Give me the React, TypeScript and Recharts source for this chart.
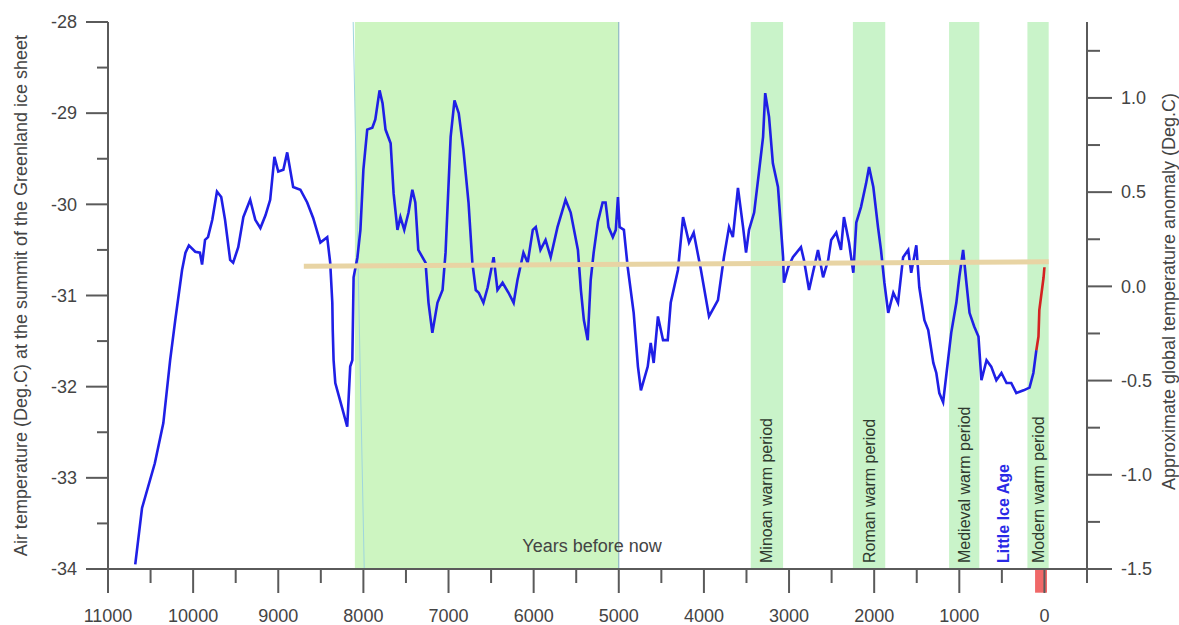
import { ComposedChart, Line, XAxis, YAxis, ReferenceArea, ReferenceLine } from "recharts";

const FONT = "Arial, 'Liberation Sans', sans-serif";
const AXIS = "#5a5a5a";
const TEXT = "#444";

// GISP2 reconstruction, years before now / deg C
const blueYears = [
  10680, 10600, 10450, 10350, 10270, 10210, 10130, 10090, 10050, 9975, 9920, 9895, 9860, 9825, 9775, 9720, 9670, 9625,
  9565, 9530, 9470, 9410, 9330, 9270, 9210, 9150, 9095, 9045, 9000, 8940, 8895, 8825, 8740, 8660, 8590, 8505, 8425, 8390,
  8365, 8360, 8350, 8330, 8245, 8190, 8155, 8130, 8115, 8070, 8035, 8000, 7955, 7895, 7860, 7810, 7775, 7740, 7680, 7645,
  7600, 7565, 7520, 7470, 7425, 7390, 7355, 7270, 7235, 7190, 7130, 7070, 7035, 6975, 6930, 6880, 6825, 6765, 6720, 6680,
  6645, 6590, 6540, 6470, 6425, 6365, 6295, 6235, 6190, 6120, 6070, 6010, 5975, 5920, 5860, 5800, 5720, 5625, 5565, 5480,
  5445, 5410, 5365, 5330, 5295, 5245, 5190, 5155, 5120, 5070, 5035, 5010, 4990, 4940, 4895, 4825, 4775, 4740, 4660, 4625,
  4590, 4540, 4480, 4425, 4390, 4305, 4245, 4175, 4120, 4035, 3940, 3835, 3765, 3705, 3660, 3600, 3540, 3505, 3470, 3410,
  3355, 3305, 3280, 3235, 3190, 3130, 3070, 3060, 3010, 2955, 2860, 2825, 2765, 2705, 2660, 2600, 2540, 2505, 2445, 2390,
  2355, 2295, 2245, 2210, 2155, 2095, 2060, 2010, 1955, 1920, 1880, 1835, 1775, 1720, 1660, 1600, 1565, 1505, 1470, 1410,
  1365, 1305, 1270, 1235, 1190, 1155, 1095, 1035, 1000, 955, 920, 880, 825, 775, 740, 680, 625, 565, 505, 445, 390, 330,
  245, 175, 130, 95,
];
const blueTemps = [
  -33.95, -33.33, -32.84, -32.4, -31.71, -31.27, -30.72, -30.53, -30.45, -30.52, -30.53, -30.66, -30.39, -30.36, -30.17,
  -29.86, -29.92, -30.17, -30.61, -30.64, -30.47, -30.14, -29.95, -30.17, -30.26, -30.12, -29.95, -29.48, -29.64, -29.62,
  -29.43, -29.81, -29.84, -29.98, -30.15, -30.42, -30.36, -30.64, -31.08, -31.38, -31.71, -31.96, -32.25, -32.44, -31.78,
  -31.71, -30.8, -30.58, -30.28, -29.62, -29.18, -29.16, -29.07, -28.75, -28.89, -29.18, -29.33, -29.88, -30.28, -30.14,
  -30.28, -30.09, -29.84, -29.98, -30.5, -30.64, -31.08, -31.41, -31.08, -30.94, -30.53, -29.26, -28.86, -29.0, -29.4,
  -29.98, -30.64, -30.94, -30.97, -31.08, -30.91, -30.58, -30.94, -30.86, -30.97, -31.08, -30.83, -30.53, -30.64, -30.28,
  -30.25, -30.5, -30.39, -30.58, -30.25, -29.95, -30.09, -30.5, -30.94, -31.27, -31.49, -30.83, -30.53, -30.19, -29.98,
  -29.98, -30.25, -30.36, -30.28, -29.92, -30.25, -30.28, -30.69, -31.19, -31.78, -32.04, -31.78, -31.52, -31.74, -31.23,
  -31.49, -31.49, -31.08, -30.72, -30.14, -30.42, -30.31, -30.72, -31.23, -31.05, -30.58, -30.25, -30.36, -29.82, -30.25,
  -30.53, -30.28, -30.09, -29.66, -29.26, -28.78, -29.04, -29.55, -29.81, -30.58, -30.86, -30.69, -30.58, -30.47, -30.61,
  -30.94, -30.69, -30.5, -30.8, -30.61, -30.39, -30.31, -30.5, -30.14, -30.42, -30.75, -30.2, -30.03, -29.77, -29.59,
  -29.81, -30.25, -30.5, -30.86, -31.19, -30.97, -31.08, -30.58, -30.5, -30.75, -30.45, -30.91, -31.27, -31.38, -31.74,
  -31.85, -32.07, -32.17, -31.89, -31.41, -31.08, -30.8, -30.5, -30.83, -31.19, -31.34, -31.45, -31.93, -31.71, -31.78,
  -31.93, -31.85, -31.96, -31.96, -32.07, -32.04, -32.01, -31.85, -31.6,
];

// recent warming segment (red)
const redYears = [95, 70, 60, 10, 0];
const redTemps = [-31.6, -31.45, -31.16, -30.8, -30.69];

// present-day level line (tan)
const levelYears = [8700, -50];
const levelTemps = [-30.68, -30.63];

const bandNames = ["", "Minoan warm period", "Roman warm period", "Medieval warm period", "Modern warm period"];
const bandStarts = [8100, 3450, 2250, 1120, 200];
const bandEnds = [5000, 3070, 1870, 765, -50];

const yearTicks = [
  11000, 10500, 10000, 9500, 9000, 8500, 8000, 7500, 7000, 6500, 6000, 5500, 5000, 4500, 4000, 3500, 3000, 2500, 2000,
  1500, 1000, 500, 0, -500,
];
const tempTicks = [-34, -33.5, -33, -32.5, -32, -31.5, -31, -30.5, -30, -29.5, -29, -28.5, -28];
const anomalyTicks = [-1.5, -1.25, -1, -0.75, -0.5, -0.25, 0, 0.25, 0.5, 0.75, 1, 1.25];

const blueData = blueYears.map((year, i) => ({ year, temp: blueTemps[i] }));
const redData = redYears.map((year, i) => ({ year, temp: redTemps[i] }));
const levelData = levelYears.map((year, i) => ({ year, temp: levelTemps[i] }));

function YearTick({ x, y, payload }: any) {
  const v = payload.value;
  const major = v % 1000 === 0;
  return (
    <g>
      <line x1={x} x2={x} y1={y} y2={y + (major ? 24 : 14)} stroke={AXIS} strokeWidth={2} />
      {major && v >= 0 && (
        <text x={x} y={y + 53} textAnchor="middle" fontSize={18} fill={TEXT} fontFamily={FONT}>
          {v}
        </text>
      )}
    </g>
  );
}

function TempTick({ x, y, payload }: any) {
  const v = payload.value;
  const major = Number.isInteger(v);
  return (
    <g>
      <line x1={x} x2={x - (major ? 22 : 11)} y1={y} y2={y} stroke={AXIS} strokeWidth={2} />
      {major && (
        <text x={x - 31} y={y} dy="0.35em" textAnchor="end" fontSize={18} fill={TEXT} fontFamily={FONT}>
          {v}
        </text>
      )}
    </g>
  );
}

function AnomalyTick({ x, y, payload }: any) {
  const v = payload.value;
  const major = Math.abs((v * 2) % 1) < 1e-9;
  return (
    <g>
      <line x1={x} x2={x + (major ? 25 : 13)} y1={y} y2={y} stroke={AXIS} strokeWidth={2} />
      {major && (
        <text x={x + 34} y={y} dy="0.35em" textAnchor="start" fontSize={18} fill={TEXT} fontFamily={FONT}>
          {v.toFixed(1)}
        </text>
      )}
    </g>
  );
}

const verticalLabel = (text: string, color: string, bold = false) => (props: any) => {
  const vb = props.viewBox;
  const cx = vb.x + vb.width / 2;
  const by = vb.y + vb.height - 6;
  return (
    <text
      x={cx}
      y={by}
      transform={`rotate(-90 ${cx} ${by})`}
      dominantBaseline="central"
      textAnchor="start"
      fontSize={16}
      fontWeight={bold ? "bold" : "normal"}
      fill={color}
      fontFamily={FONT}
    >
      {text}
    </text>
  );
};

const leftTitle = (props: any) => {
  const vb = props.viewBox;
  const tx = vb.x + 27;
  const ty = vb.y + vb.height / 2;
  return (
    <text x={tx} y={ty} transform={`rotate(-90 ${tx} ${ty})`} textAnchor="middle" fontSize={18} fill={TEXT} fontFamily={FONT}>
      Air temperature (Deg.C) at the summit of the Greenland ice sheet
    </text>
  );
};

const rightTitle = (props: any) => {
  const vb = props.viewBox;
  const tx = vb.x + 88;
  const ty = vb.y + vb.height / 2 - 4;
  return (
    <text x={tx} y={ty} transform={`rotate(-90 ${tx} ${ty})`} textAnchor="middle" fontSize={18} fill={TEXT} fontFamily={FONT}>
      Approximate global temperature anomaly (Deg.C)
    </text>
  );
};

const bottomTitle = (props: any) => {
  const vb = props.viewBox;
  return (
    <text x={vb.x + 484} y={vb.y - 17} textAnchor="middle" fontSize={18} fill={TEXT} fontFamily={FONT}>
      Years before now
    </text>
  );
};

const topTitle = (props: any) => {
  const vb = props.viewBox;
  return (
    <text x={vb.x + 12} y={vb.y + 36} textAnchor="start" fontSize={18} fill={TEXT} fontFamily={FONT}>
      GISP 2, Greenland
    </text>
  );
};

export default function App() {
  return (
    <div style={{ position: "absolute", left: 0, top: 0, background: "#fff" }}>
      <ComposedChart width={1179} height={625} margin={{ top: 22, right: 0, bottom: 0, left: 0 }}>
        <XAxis
          dataKey="year"
          type="number"
          domain={[-500, 11000]}
          reversed
          ticks={yearTicks}
          interval={0}
          height={56}
          tickSize={0}
          tickMargin={0}
          tickLine={false}
          tick={<YearTick />}
          axisLine={{ stroke: AXIS, strokeWidth: 2 }}
          label={{ content: bottomTitle }}
          allowDataOverflow
        />
        <XAxis
          xAxisId="top"
          orientation="top"
          dataKey="year"
          type="number"
          domain={[-500, 11000]}
          reversed
          ticks={yearTicks}
          interval={0}
          height={0}
          tickSize={3}
          tick={false}
          tickLine={{ stroke: AXIS }}
          axisLine={{ stroke: AXIS, strokeWidth: 2 }}
          label={{ content: topTitle }}
          allowDataOverflow
        />
        <YAxis
          yAxisId="left"
          type="number"
          domain={[-34, -28]}
          ticks={tempTicks}
          interval={0}
          width={108}
          tickSize={0}
          tickMargin={0}
          tickLine={false}
          tick={<TempTick />}
          axisLine={{ stroke: AXIS, strokeWidth: 2 }}
          label={{ content: leftTitle }}
          allowDataOverflow
        />
        <YAxis
          yAxisId="right"
          orientation="right"
          type="number"
          domain={[-1.5, 1.403]}
          ticks={anomalyTicks}
          interval={0}
          width={92}
          tickSize={0}
          tickMargin={0}
          tickLine={false}
          tick={<AnomalyTick />}
          axisLine={{ stroke: AXIS, strokeWidth: 2 }}
          label={{ content: rightTitle }}
          allowDataOverflow
        />
        {bandNames.map((name, i) => (
          <ReferenceArea
            key={i}
            yAxisId="left"
            x1={bandStarts[i]}
            x2={bandEnds[i]}
            y1={-34}
            y2={-28}
            fill={i === 0 ? "#cdf5c1" : "#c9f3c9"}
            fillOpacity={1}
            stroke="none"
            label={name ? { content: verticalLabel(name, "#2f3a2f") } : undefined}
          />
        ))}
        <ReferenceLine
          yAxisId="left"
          segment={[
            { x: 8120, y: -28 },
            { x: 7990, y: -34 },
          ]}
          stroke="#9fd6de"
          strokeWidth={1}
        />
        <ReferenceLine yAxisId="left" x={5000} stroke="#7fa9c2" strokeWidth={1} />
        <ReferenceLine
          yAxisId="left"
          x={482}
          stroke="none"
          label={{ content: verticalLabel("Little Ice Age", "#2a2ae6", true) }}
        />
        <ReferenceArea
          yAxisId="left"
          x1={110}
          x2={-30}
          y1={-34}
          y2={-34.26}
          fill="#f06868"
          fillOpacity={1}
          stroke="none"
          ifOverflow="visible"
        />
        <Line
          yAxisId="left"
          data={blueData}
          dataKey="temp"
          type="linear"
          stroke="#1f1fe6"
          strokeWidth={2.6}
          dot={false}
          isAnimationActive={false}
        />
        <Line
          yAxisId="left"
          data={levelData}
          dataKey="temp"
          type="linear"
          stroke="#e8d4a4"
          strokeWidth={5}
          dot={false}
          isAnimationActive={false}
        />
        <Line
          yAxisId="left"
          data={redData}
          dataKey="temp"
          type="linear"
          stroke="#d42222"
          strokeWidth={2.6}
          dot={false}
          isAnimationActive={false}
        />
      </ComposedChart>
    </div>
  );
}
